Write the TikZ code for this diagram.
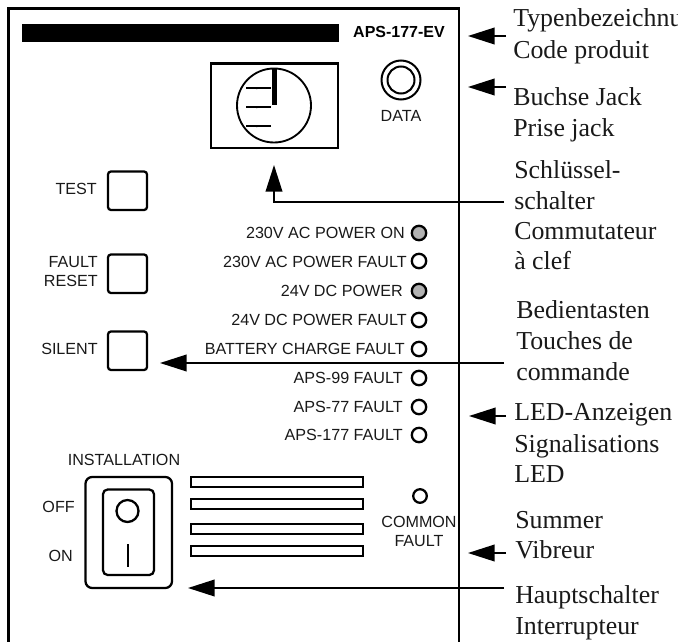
\documentclass[tikz,border=0pt]{standalone}
\usepackage{fontspec}
\setmainfont{Liberation Serif}
\setsansfont{Liberation Sans}
\usetikzlibrary{arrows.meta}
\tikzset{
  px/.style={x=0.75pt,y=-0.75pt},
  thick line/.style={line width=1.7pt,draw=black},
  panel line/.style={line width=2.1pt,draw=black},
  btn/.style={thick line,rounded corners=2.2pt},
  led/.style={thick line,fill=white},
  ledon/.style={thick line,fill=black!30},
  slot/.style={thick line},
  lbl/.style={inner sep=0pt,font=\sffamily\fontsize{12.1}{14}\selectfont,text=black!90},
  lblr/.style={lbl,anchor=base east},
  lblc/.style={lbl,anchor=base},
  lbll/.style={lbl,anchor=base west},
  side/.style={inner sep=0pt,anchor=base west,font=\rmfamily\fontsize{19.4}{22}\selectfont,text=black!90},
  conn/.style={line width=1.3pt,draw=black,-{Triangle[length=20pt,width=12.5pt]}},
}
\begin{document}
\begin{tikzpicture}[px]
\useasboundingbox (0,0) rectangle (678,642);
% panel
\draw[panel line] (8.5,642) -- (8.5,8.5) -- (459,8.5) -- (459,642);
\fill[black] (22,24) rectangle (339,42);
\node[inner sep=0pt,anchor=base,font=\sffamily\bfseries\fontsize{12}{14}\selectfont] (model) at (399,38) {APS-177-EV};
% key switch
\draw[thick line] (211,63.5) rectangle (338,148);
\coordinate (keycentre) at (274,105.5);
\draw[line width=1.4pt] (keycentre) circle [radius=37];
\fill[black] (272.3,68) rectangle (277.3,105);
\foreach \yy in {88,107,126}{
  \draw[line width=0.9pt] (246,\yy) -- (271,\yy);
  \fill[black] (256,\yy-0.9) -- (271,\yy) -- (256,\yy+1.1) -- cycle;
}
% jack
\draw[line width=1.5pt] (401,80) circle [radius=19.5];
\draw[line width=1.5pt] (401,80) circle [radius=13.5];
\node[lblc] (data) at (401,122) {DATA};
% buttons
\draw[btn] (108,171.5) rectangle (147,210);
\draw[btn] (108,254.5) rectangle (147,293);
\draw[btn] (108,331.5) rectangle (147,370);
\node[lblr] (ltest) at (97,194) {TEST};
\node[lblr] (lfault) at (98,267) {FAULT};
\node[lblr] (lreset) at (98,286) {RESET};
\node[lblr] (lsilent) at (98,354) {SILENT};
% LEDs
\node[lblr] (t1) at (405,238) {230V AC POWER ON};
\node[lblr] (t2) at (407,267) {230V AC POWER FAULT};
\node[lblr] (t3) at (403,296) {24V DC POWER};
\node[lblr] (t4) at (407,325) {24V DC POWER FAULT};
\node[lblr] (t5) at (405,354) {BATTERY CHARGE FAULT};
\node[lblr] (t6) at (403,383) {APS-99 FAULT};
\node[lblr] (t7) at (403,412) {APS-77 FAULT};
\node[lblr] (t8) at (403,440) {APS-177 FAULT};
\draw[ledon] (419,233) circle [radius=7.2];
\draw[led] (419,261) circle [radius=7.2];
\draw[ledon] (419,291) circle [radius=7.2];
\draw[led] (419,320) circle [radius=7.2];
\draw[led] (419,349) circle [radius=7.2];
\draw[led] (419,378) circle [radius=7.2];
\draw[led] (419,407) circle [radius=7.2];
\draw[led] (419,435) circle [radius=7.2];
% installation switch
\node[lblc] (inst) at (124,465) {INSTALLATION};
\node[lblr] (loff) at (75,512) {OFF};
\node[lblr] (lon) at (73,561) {ON};
\draw[thick line,rounded corners=5pt] (85.5,477) rectangle (172,588);
\draw[thick line,rounded corners=3.5pt] (103,489.5) rectangle (154,575);
\draw[thick line] (127.5,511) circle [radius=11];
\draw[line width=1.3pt] (128,544) -- (128,567);
% slots
\foreach \ya/\yb in {477/487,499/509,524/534,546/556}
  \draw[slot] (191,\ya) rectangle (363,\yb);
% common fault
\draw[led] (420,496) circle [radius=6.8];
\node[lblc] (lcommon) at (419,527) {COMMON};
\node[lblc] (lcfault) at (419,546) {FAULT};
% side labels
\node[side] (s1) at (513,27) {Typenbezeichnung};
\node[side] (s2) at (513,59) {Code produit};
\node[side] (s3) at (513,105) {Buchse Jack};
\node[side] (s4) at (513,136) {Prise jack};
\node[side] (s5) at (514,178) {Schlüssel-};
\node[side] (s6) at (514,209) {schalter};
\node[side] (s7) at (514,239) {Commutateur};
\node[side] (s8) at (514,269) {à clef};
\node[side] (s9) at (516,318) {Bedientasten};
\node[side] (s10) at (516,349) {Touches de};
\node[side] (s11) at (516,380) {commande};
\node[side] (s12) at (514,420) {LED-Anzeigen};
\node[side] (s13) at (514,452) {Signalisations};
\node[side] (s14) at (514,482) {LED};
\node[side] (s15) at (515,528) {Summer};
\node[side] (s16) at (515,558) {Vibreur};
\node[side] (s17) at (515,603) {Hauptschalter};
\node[side] (s18) at (515,634) {Interrupteur};
% connectors
\coordinate (a1s) at (506,36);   \coordinate (a1e) at (468,36);
\coordinate (a2s) at (506,87);   \coordinate (a2e) at (468,87);
\coordinate (a3s) at (504,202);  \coordinate (a3c) at (274,202); \coordinate (a3e) at (274,165);
\coordinate (a4s) at (504,363);  \coordinate (a4e) at (160,363);
\coordinate (a5s) at (506,416);  \coordinate (a5e) at (469,416);
\coordinate (a6s) at (506,553);  \coordinate (a6e) at (468,553);
\coordinate (a7s) at (504,588);  \coordinate (a7e) at (188,588);
\draw[conn] (a1s) -- (a1e);
\draw[conn] (a2s) -- (a2e);
\draw[conn] (a3s) -- (a3c) -- (a3e);
\draw[conn] (a4s) -- (a4e);
\draw[conn] (a5s) -- (a5e);
\draw[conn] (a6s) -- (a6e);
\draw[conn] (a7s) -- (a7e);
\end{tikzpicture}
\end{document}
